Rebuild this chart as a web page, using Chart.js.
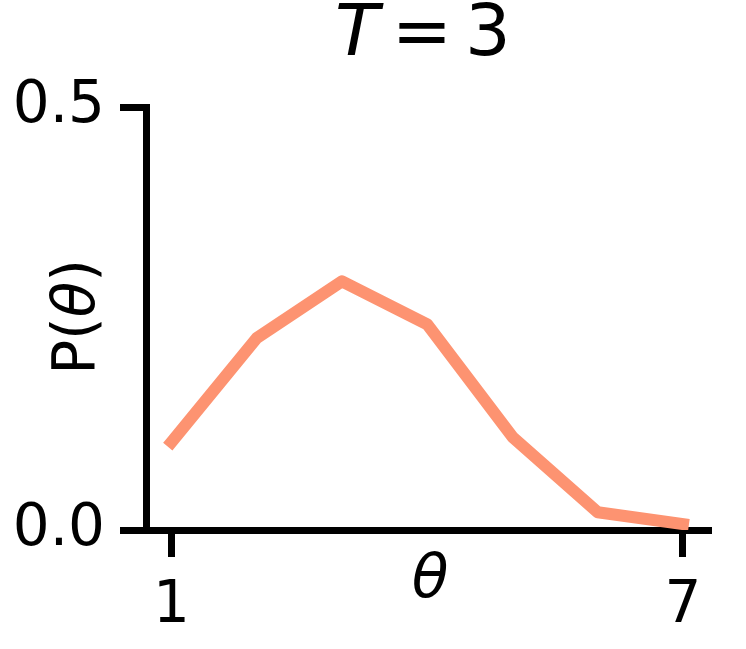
<!DOCTYPE html>
<html>
<head>
<meta charset="utf-8">
<script src="https://cdn.jsdelivr.net/npm/chart.js@4/dist/chart.umd.min.js"></script>
<style>
  html, body { margin: 0; padding: 0; background: #fff; }
  #wrap { width: 746px; height: 649px; }
</style>
</head>
<body>
<div id="wrap"><canvas id="chart"></canvas></div>
<script>
// valeurs
const thetaValues = [1, 2, 3, 4, 5, 6, 7];
const probs       = [0.104, 0.227, 0.294, 0.243, 0.110, 0.021, 0.007];
const xTicks      = [1, 7];
const yTicks      = [0, 0.5];
const titleParts  = ['T', '=', '3'];

const FONT = '"DejaVu Sans", sans-serif';
const LINE_COLOR = '#fd9371';

// titre + labels d'axes (mélange italique / droit comme mathtext)
const labelsPlugin = {
  id: 'labels',
  afterDraw(chart) {
    const ctx = chart.ctx;
    ctx.save();
    ctx.fillStyle = '#000';
    ctx.textBaseline = 'alphabetic';
    ctx.textAlign = 'center';

    // titre "T = 3"
    ctx.font = 'italic 72px ' + FONT;
    ctx.fillText(titleParts[0], 357, 55);
    ctx.font = '72px ' + FONT;
    ctx.fillText(titleParts[1], 422, 55);
    ctx.fillText(titleParts[2], 488, 55);

    // label x : θ
    ctx.font = 'italic 60px ' + FONT;
    ctx.fillText('θ', 430, 597);

    // label y : P(θ)
    ctx.translate(94, 317);
    ctx.rotate(-Math.PI / 2);
    ctx.textAlign = 'left';
    const parts = [['P(', false], ['θ', true], [')', false]];
    let total = 0;
    parts.forEach(p => {
      ctx.font = (p[1] ? 'italic ' : '') + '58px ' + FONT;
      total += ctx.measureText(p[0]).width;
    });
    let x = -total / 2;
    parts.forEach(p => {
      ctx.font = (p[1] ? 'italic ' : '') + '58px ' + FONT;
      ctx.fillText(p[0], x, 0);
      x += ctx.measureText(p[0]).width;
    });
    ctx.restore();
  }
};

new Chart(document.getElementById('chart'), {
  type: 'line',
  data: {
    datasets: [{
      data: thetaValues.map((t, i) => ({ x: t, y: probs[i] })),
      borderColor: LINE_COLOR,
      borderWidth: 12,
      borderCapStyle: 'square',
      borderJoinStyle: 'round',
      pointRadius: 0,
      tension: 0,
      fill: false,
    }],
  },
  options: {
    responsive: true,
    maintainAspectRatio: false,
    animation: false,
    layout: { padding: { top: 107, right: 37.5, left: 0, bottom: 0 } },
    plugins: { legend: { display: false }, tooltip: { enabled: false }, title: { display: false } },
    scales: {
      x: {
        type: 'linear',
        min: 0.7,
        max: 7.3,
        afterBuildTicks: s => { s.ticks = xTicks.map(v => ({ value: v })); },
        afterFit: s => { s.height = 119; },
        border: { display: true, color: '#000', width: 7 },
        grid: { drawOnChartArea: false, drawTicks: true, tickLength: 27, lineWidth: 7, color: '#000' },
        ticks: {
          autoSkip: false, maxRotation: 0, padding: 15, color: '#000',
          font: { family: FONT, size: 58 },
          callback: v => String(v),
        },
      },
      y: {
        min: 0,
        max: 0.5,
        afterBuildTicks: s => { s.ticks = yTicks.map(v => ({ value: v })); },
        afterFit: s => { s.width = 146; },
        border: { display: true, color: '#000', width: 7 },
        grid: { drawOnChartArea: false, drawTicks: true, tickLength: 26, lineWidth: 7, color: '#000' },
        ticks: {
          autoSkip: false, padding: 15, color: '#000',
          font: { family: FONT, size: 58 },
          callback: v => v.toFixed(1),
        },
      },
    },
  },
  plugins: [labelsPlugin],
});
</script>
</body>
</html>
